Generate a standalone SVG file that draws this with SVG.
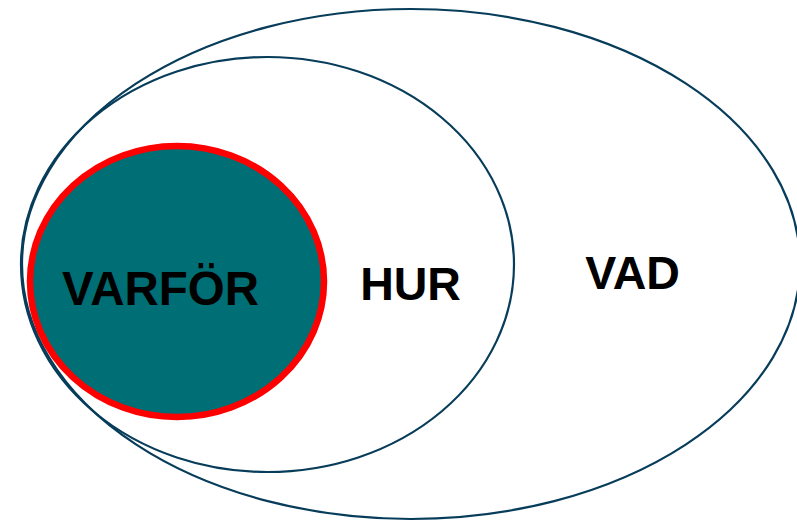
<svg xmlns="http://www.w3.org/2000/svg" width="797" height="521" viewBox="0 0 797 521">
<style>
.ring{fill:none;stroke:#073D5A;stroke-width:2.2}
.lbl{font-family:"Liberation Sans",Arial,sans-serif;font-weight:bold;font-size:46.5px;fill:#000;text-anchor:middle}
</style>
<rect width="797" height="521" fill="#fff"/>
<g id="vad">
<ellipse class="ring" cx="411" cy="264" rx="389" ry="255"/>
<text class="lbl" x="632.5" y="289">VAD</text>
</g>
<g id="hur">
<ellipse class="ring" cx="267.5" cy="264.5" rx="246.5" ry="207.5"/>
<text class="lbl" x="410.5" y="300">HUR</text>
</g>
<g id="varfor">
<ellipse cx="177" cy="281.5" rx="147" ry="135.5" fill="#006F75" stroke="#FF0000" stroke-width="6.5"/>
<text class="lbl" x="160.5" y="305" style="font-size:47.5px">VARFÖR</text>
</g>
</svg>
